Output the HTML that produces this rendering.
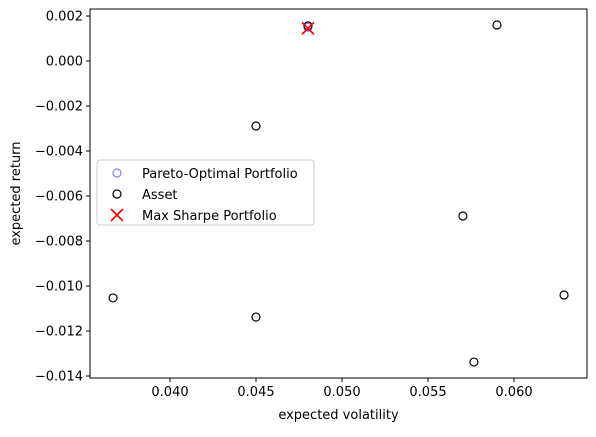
<!DOCTYPE html>
<html><head><meta charset="utf-8"><style>
body{margin:0;background:#fff;font-family:"Liberation Sans","DejaVu Sans",sans-serif}
svg text{font-family:"DejaVu Sans","Liberation Sans",sans-serif;font-size:13px;fill:#000}
</style></head><body>
<svg id="c" width="596" height="432"></svg>
<script>
const assetVol=[0.04802,0.05901,0.0450,0.05703,0.03669,0.0450,0.06291,0.05767];
const assetRet=[0.00156,0.0016,-0.00289,-0.00689,-0.01053,-0.01138,-0.0104,-0.01338];
const paretoVol=[0.04802];
const paretoRet=[0.00150];
const sharpeVol=[0.04802];
const sharpeRet=[0.00145];
const xTicks=[0.040,0.045,0.050,0.055,0.060];
const yTicks=[0.002,0.000,-0.002,-0.004,-0.006,-0.008,-0.010,-0.012,-0.014];

const NS="http://www.w3.org/2000/svg",svg=document.getElementById('c');
const L=90,R=587,T=9,B=378;
const xs=v=>170+(v-0.040)/0.005*86;
const ys=v=>61-v/0.002*45;
function el(t,a,p){const e=document.createElementNS(NS,t);for(const k in a)e.setAttribute(k,a[k]);(p||svg).appendChild(e);return e;}
const frame=el('rect',{x:L,y:T,width:R-L,height:B-T,fill:'none',stroke:'#000','stroke-width':1});


xTicks.forEach(v=>{const x=xs(v);
 const tk=el('line',{x1:x,x2:x,y1:B,y2:B+4,stroke:'#000'});
 
 
 const t=el('text',{x:x,y:B+18,'text-anchor':'middle'});t.textContent=v.toFixed(3);
 
 });
yTicks.forEach(v=>{const y=ys(v);
 const tk=el('line',{x1:L-4,x2:L,y1:y,y2:y,stroke:'#000'});
 
 
 const t=el('text',{x:L-7,y:y+4.5,'text-anchor':'end'});t.textContent=(v<0?'\u2212':'')+Math.abs(v).toFixed(3);
 
 });
const xt=el('text',{x:(L+R)/2,y:419,'text-anchor':'middle'});xt.textContent='expected volatility';


const yt=el('text',{x:20,y:(T+B)/2,'text-anchor':'middle',transform:`rotate(-90 20 ${(T+B)/2})`});yt.textContent='expected return';


paretoVol.forEach((v,i)=>{const c=el('circle',{cx:xs(v),cy:ys(paretoRet[i]),r:4,fill:'none',stroke:'#8080ff','stroke-width':1.2});
 
 });
assetVol.forEach((v,i)=>{const c=el('circle',{cx:xs(v),cy:ys(assetRet[i]),r:4,fill:'none',stroke:'#000','stroke-width':1.2});
 
 });
sharpeVol.forEach((v,i)=>{const x=xs(v),y=ys(sharpeRet[i]);
 const g=el('path',{d:`M${x-6},${y-6}L${x+6},${y+6}M${x-6},${y+6}L${x+6},${y-6}`,stroke:'#ff0000','stroke-width':1.6,fill:'none'});
 
 });
const lg=el('g',{});


el('rect',{x:97,y:160,width:217,height:65,rx:3,fill:'#fff','fill-opacity':0.8,stroke:'#ccc'},lg);
el('circle',{cx:117,cy:173,r:4,fill:'none',stroke:'#8080ff','stroke-width':1.2},lg);
el('circle',{cx:117,cy:194,r:4,fill:'none',stroke:'#000','stroke-width':1.2},lg);
el('path',{d:'M111,209L123,221M111,221L123,209',stroke:'#ff0000','stroke-width':1.6},lg);
[['Pareto-Optimal Portfolio',178],['Asset',199],['Max Sharpe Portfolio',220]].forEach(([s,y])=>{
 const t=el('text',{x:142,y:y},lg);t.textContent=s;
 
 });
</script>
</body></html>
